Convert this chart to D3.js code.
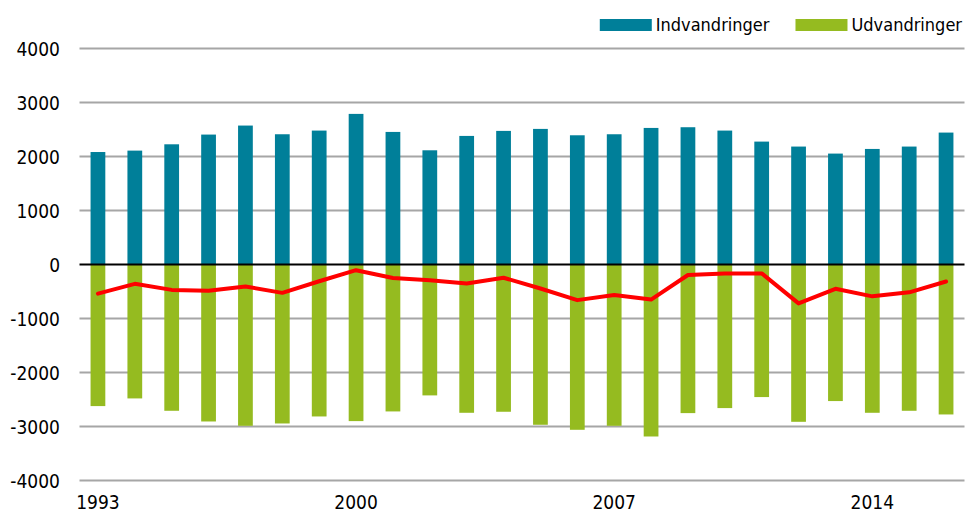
<!DOCTYPE html>
<html><head><meta charset="utf-8">
<script src="https://cdn.jsdelivr.net/npm/d3@7"></script>
<style>
body{margin:0;background:#fff;}
text{font-family:"DejaVu Sans Condensed","DejaVu Sans",sans-serif;font-stretch:condensed;fill:#000;}
</style></head>
<body><svg id="c" width="966" height="515"></svg>
<script>
const years = [1993,1994,1995,1996,1997,1998,1999,2000,2001,2002,2003,2004,2005,2006,2007,2008,2009,2010,2011,2012,2013,2014,2015,2016];
const indvandringer = [2083,2109,2226,2406,2573,2412,2480,2789,2455,2115,2381,2474,2511,2393,2412,2529,2542,2480,2276,2184,2054,2140,2184,2443];
const udvandringer = [-2622,-2480,-2709,-2907,-2987,-2944,-2814,-2900,-2721,-2424,-2746,-2727,-2968,-3061,-2987,-3185,-2752,-2659,-2455,-2913,-2529,-2746,-2709,-2777];
const netto = [-539,-358,-470,-488,-408,-525,-310,-105,-250,-290,-350,-245,-445,-660,-565,-650,-195,-165,-165,-720,-450,-590,-515,-315];
const yTicks = [4000,3000,2000,1000,0,-1000,-2000,-3000,-4000];
const xTickLabels = [1993,2000,2007,2014];
const seriesNames = ["Indvandringer","Udvandringer"];
const colors = ["#007f99","#95bb20"];

const svg = d3.select("#c");
const L = 79.5, R = 964.5, T = 48.5, B = 480.5;
const x = d3.scaleBand().domain(years).range([L,R]).paddingInner(0.6).paddingOuter(0.3);
const y = d3.scaleLinear().domain([-4000,4000]).range([B,T]);

// grid
svg.append("g").selectAll("line").data(yTicks.filter(d=>d!==0)).join("line")
  .attr("x1",L).attr("x2",R).attr("y1",d=>y(d)).attr("y2",d=>y(d))
  .attr("stroke","#a6a6a6").attr("stroke-width",2);

// y labels
svg.append("g").selectAll("text").data(yTicks).join("text")
  .attr("x",60).attr("y",d=>y(d)+7).attr("text-anchor","end")
  .attr("font-size",19).text(d=>d);

// bars
svg.append("g").selectAll("rect").data(years).join("rect")
  .attr("x",d=>x(d)).attr("width",x.bandwidth())
  .attr("y",(d,i)=>y(indvandringer[i])).attr("height",(d,i)=>y(0)-y(indvandringer[i]))
  .attr("fill",colors[0]);
svg.append("g").selectAll("rect").data(years).join("rect")
  .attr("x",d=>x(d)).attr("width",x.bandwidth())
  .attr("y",y(0)).attr("height",(d,i)=>y(udvandringer[i])-y(0))
  .attr("fill",colors[1]);

// zero line
svg.append("line").attr("x1",L).attr("x2",R).attr("y1",y(0)).attr("y2",y(0))
  .attr("stroke","#000").attr("stroke-width",2);

// net line
const line = d3.line().x((d,i)=>x(years[i])+x.bandwidth()/2).y(d=>y(d));
svg.append("path").datum(netto).attr("d",line)
  .attr("fill","none").attr("stroke","#ff0000").attr("stroke-width",4)
  .attr("stroke-linejoin","round").attr("stroke-linecap","round");

// x labels
svg.append("g").selectAll("text").data(xTickLabels).join("text")
  .attr("x",d=>x(d)+x.bandwidth()/2).attr("y",509).attr("text-anchor","middle")
  .attr("font-size",19).text(d=>d);

// legend, laid out from the right edge
const lg = svg.append("g");
let cursor = 962;
for (let i = seriesNames.length - 1; i >= 0; i--) {
  const t = lg.append("text").attr("y",31).attr("font-size",18).text(seriesNames[i]);
  const w = t.node().getComputedTextLength();
  t.attr("x", cursor - w);
  lg.append("rect").attr("x",cursor - w - 56).attr("y",19).attr("width",52).attr("height",12).attr("fill",colors[i]);
  cursor = cursor - w - 56 - 26;
}
</script></body></html>
